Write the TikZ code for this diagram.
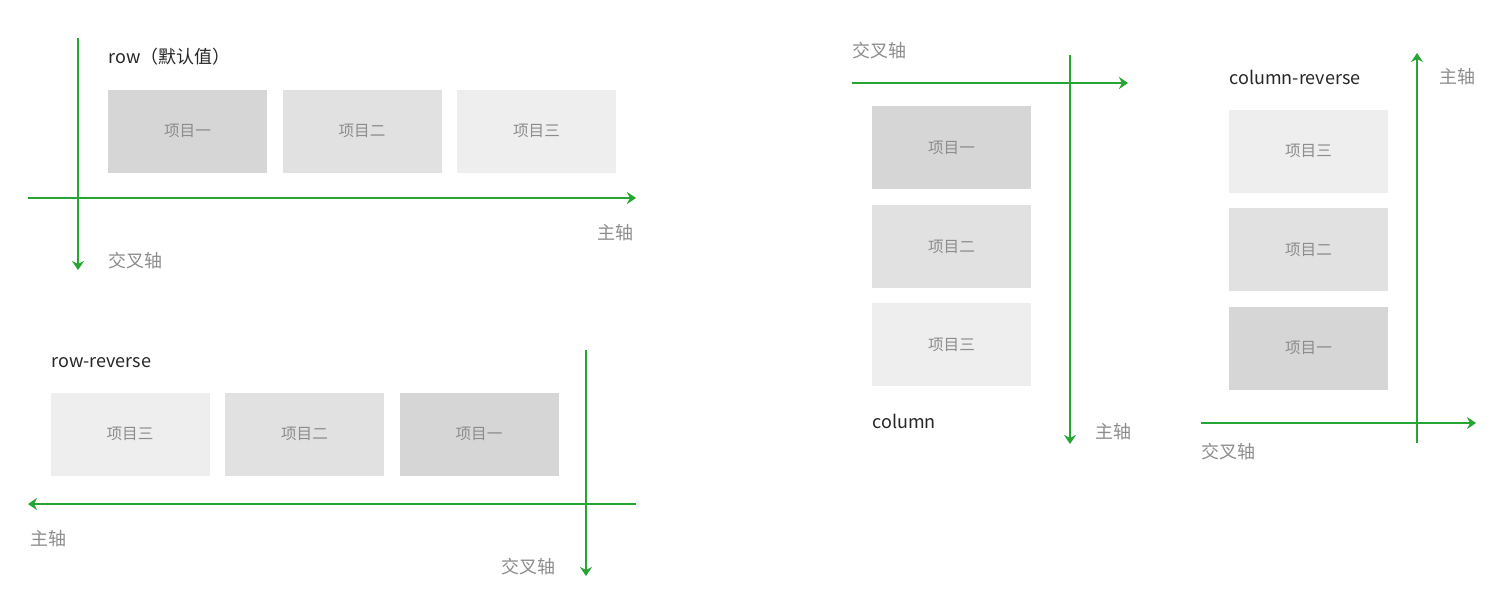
\documentclass[tikz,border=0pt]{standalone}
\usepackage{fontspec}
\setmainfont{Noto Sans CJK SC}
\usetikzlibrary{arrows.meta}
\definecolor{col1}{HTML}{D6D6D6}
\definecolor{col2}{HTML}{E1E1E1}
\definecolor{col3}{HTML}{EEEEEE}
\definecolor{axgreen}{HTML}{25A532}
\definecolor{labgray}{HTML}{8C8C8C}
\def\itemone{项目一}
\def\itemtwo{项目二}
\def\itemthree{项目三}
\def\mainax{主轴}
\def\crossax{交叉轴}

\begin{document}
\begin{tikzpicture}[
		x=0.5pt, y=-0.5pt,
		box/.style={minimum width=79.5pt, minimum height=41.5pt, inner sep=0pt, font=\fontsize{7.8}{9}\selectfont, text=labgray},
		axis/.style={draw=axgreen, line width=1pt, -{Stealth[length=4.5pt, width=6pt, inset=1.5pt]}},
		title/.style={anchor=west, inner sep=0pt, font=\fontsize{9}{11}\selectfont, text=black!85},
		axlabel/.style={anchor=west, inner sep=0pt, font=\fontsize{9}{11}\selectfont, text=labgray},
	]
	\useasboundingbox (0,0) rectangle (1498,612);
	% row
	\node[title] (rowtitle) at (108,57) {row（默认值）};
	\node[box, fill=col1] (r1) at (187.5,131) {\itemone};
	\node[box, fill=col2] (r2) at (362,131) {\itemtwo};
	\node[box, fill=col3] (r3) at (536.5,131) {\itemthree};
	\coordinate (rms) at (28,198);
	\coordinate (rme) at (636,198);
	\coordinate (rcs) at (78,38);
	\coordinate (rce) at (78,270);
	\draw[axis] (rms) -- (rme);
	\draw[axis] (rcs) -- (rce);
	\node[axlabel, anchor=east] (rmain) at (634,233) {\mainax};
	\node[axlabel] (rcross) at (108,261) {\crossax};
	% row-reverse
	\node[title] (rrtitle) at (51,363) {row-reverse};
	\node[box, fill=col3] (rr3) at (130,434) {\itemthree};
	\node[box, fill=col2] (rr2) at (304.5,434) {\itemtwo};
	\node[box, fill=col1] (rr1) at (479,434) {\itemone};
	\coordinate (rrms) at (636,504);
	\coordinate (rrme) at (28,504);
	\coordinate (rrcs) at (586,350);
	\coordinate (rrce) at (586,576);
	\draw[axis] (rrms) -- (rrme);
	\draw[axis] (rrcs) -- (rrce);
	\node[axlabel] (rrmain) at (30,539) {\mainax};
	\node[axlabel, anchor=east] (rrcross) at (556,567) {\crossax};
	% column
	\node[title] (coltitle) at (872,421) {column};
	\node[box, fill=col1] (c1) at (951.5,147.5) {\itemone};
	\node[box, fill=col2] (c2) at (951.5,246.5) {\itemtwo};
	\node[box, fill=col3] (c3) at (951.5,344.5) {\itemthree};
	\coordinate (cms) at (1070,55);
	\coordinate (cme) at (1070,444);
	\coordinate (ccs) at (852,83);
	\coordinate (cce) at (1128,83);
	\draw[axis] (cms) -- (cme);
	\draw[axis] (ccs) -- (cce);
	\node[axlabel] (cmain) at (1095,432) {\mainax};
	\node[axlabel] (ccross) at (852,51) {\crossax};
	% column-reverse
	\node[title] (crtitle) at (1229,77) {column-reverse};
	\node[box, fill=col3] (cr3) at (1308.5,151) {\itemthree};
	\node[box, fill=col2] (cr2) at (1308.5,249.5) {\itemtwo};
	\node[box, fill=col1] (cr1) at (1308.5,348) {\itemone};
	\coordinate (crms) at (1417,443);
	\coordinate (crme) at (1417,53);
	\coordinate (crcs) at (1201,423);
	\coordinate (crce) at (1476,423);
	\draw[axis] (crms) -- (crme);
	\draw[axis] (crcs) -- (crce);
	\node[axlabel] (crmain) at (1439,77) {\mainax};
	\node[axlabel] (crcross) at (1201,452) {\crossax};
\end{tikzpicture}
\end{document}
